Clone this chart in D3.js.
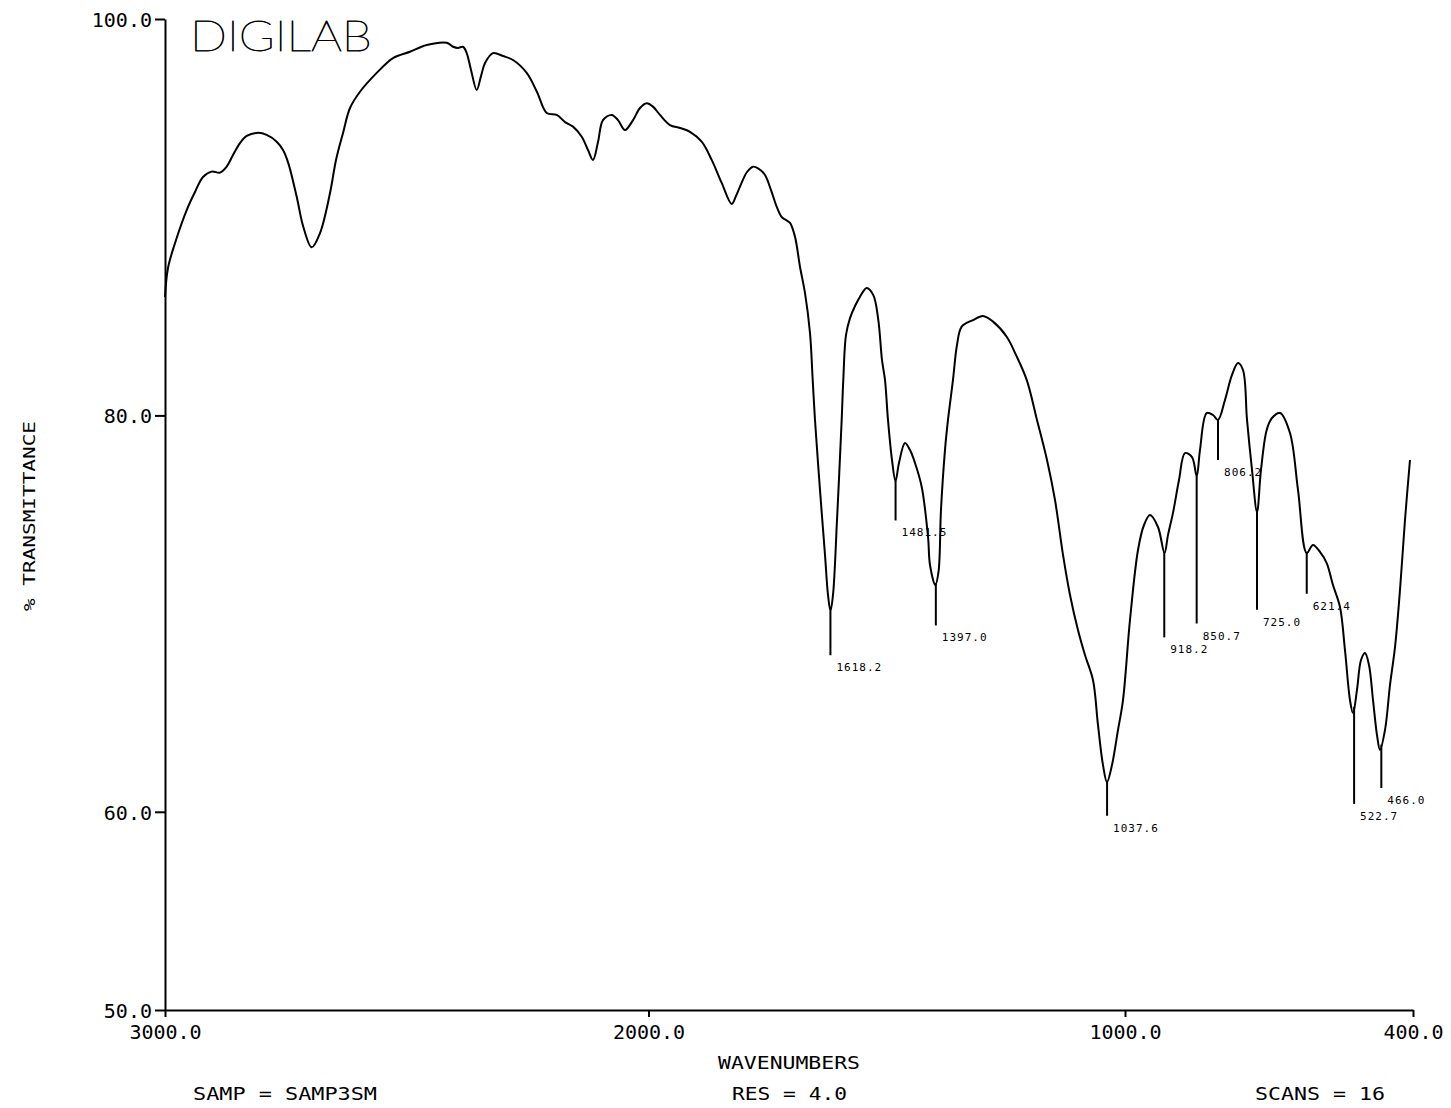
<!DOCTYPE html>
<html>
<head>
<meta charset="utf-8">
<script src="https://cdn.jsdelivr.net/npm/d3@7"></script>
<style>
  html, body { margin: 0; padding: 0; background: #fff; }
  svg { display: block; }
  text { fill: #000; }
</style>
</head>
<body>
<svg id="chart" width="1451" height="1108"></svg>
<script>
// IR spectrum: wavenumber (cm-1) and % transmittance
const wavenumbers = [
  3000.0, 2993.8, 2977.2, 2955.1, 2938.0, 2921.4, 2903.4, 2886.2, 2872.4, 2859.4,
  2844.9, 2831.0, 2807.0, 2789.7, 2769.0, 2755.9, 2745.0, 2727.6, 2714.0, 2696.6,
  2679.4, 2658.7, 2646.3, 2631.8, 2617.4, 2596.7, 2562.1, 2528.4, 2493.3, 2458.7,
  2417.4, 2404.3, 2394.0, 2383.6, 2376.0, 2367.1, 2355.3, 2346.4, 2338.1, 2321.6,
  2300.9, 2280.2, 2251.9, 2230.6, 2210.5, 2189.8, 2172.7, 2156.1, 2138.1, 2125.1,
  2114.8, 2104.4, 2094.1, 2076.1, 2063.1, 2048.6, 2032.0, 2017.6, 2003.7, 1990.6,
  1975.9, 1954.9, 1933.9, 1912.9, 1888.4, 1867.4, 1846.4, 1825.4, 1816.4, 1808.0,
  1793.3, 1780.7, 1768.1, 1755.5, 1742.9, 1731.0, 1720.5, 1711.4, 1703.0, 1692.6,
  1682.1, 1671.6, 1661.1, 1655.4, 1650.6, 1640.1, 1629.6, 1623.3, 1618.1, 1612.8,
  1604.4, 1594.6, 1591.2, 1585.5, 1577.1, 1566.6, 1556.1, 1542.1, 1528.2, 1517.7,
  1510.0, 1503.7, 1497.4, 1489.0, 1481.6, 1474.3, 1461.7, 1451.2, 1440.7, 1426.7,
  1413.4, 1409.2, 1398.1, 1391.4, 1386.2, 1377.8, 1371.5, 1361.0, 1352.6, 1342.7,
  1319.0, 1298.0, 1277.0, 1248.3, 1228.8, 1206.3, 1184.7, 1163.7, 1146.9, 1130.1,
  1115.4, 1098.7, 1084.0, 1067.2, 1056.7, 1046.2, 1037.8, 1027.3, 1014.7, 1004.2,
  989.6, 972.9, 960.4, 947.9, 931.3, 917.7, 910.4, 900.0, 887.5, 875.0,
  860.4, 850.6, 843.8, 829.8, 816.7, 806.3, 791.7, 777.1, 764.6, 754.2,
  745.8, 735.4, 725.0, 716.7, 704.8, 693.8, 677.1, 656.3, 639.6, 621.5,
  608.3, 593.8, 579.8, 566.7, 552.1, 541.7, 531.3, 525.0, 516.7, 508.3,
  500.0, 491.7, 483.3, 475.0, 468.8, 458.3, 447.9, 437.5, 427.1, 416.7,
  406.3
];
const transmittance = [
  85.97, 87.44, 88.85, 90.36, 91.27, 92.03, 92.30, 92.25, 92.55, 93.14,
  93.74, 94.10, 94.26, 94.15, 93.81, 93.39, 92.73, 91.03, 89.52, 88.48,
  89.20, 91.22, 92.89, 94.25, 95.51, 96.33, 97.28, 98.03, 98.35, 98.69,
  98.80, 98.60, 98.54, 98.60, 98.28, 97.43, 96.42, 97.12, 97.78, 98.28,
  98.13, 97.93, 97.28, 96.32, 95.26, 95.16, 94.80, 94.57, 94.06, 93.39,
  92.89, 93.79, 94.90, 95.16, 94.90, 94.40, 94.90, 95.51, 95.75, 95.58,
  95.16, 94.65, 94.50, 94.31, 93.81, 92.89, 91.73, 90.67, 91.07, 91.54,
  92.28, 92.55, 92.43, 92.13, 91.37, 90.53, 90.01, 89.86, 89.71, 89.02,
  87.50, 86.18, 84.16, 81.79, 79.77, 76.24, 72.96, 70.94, 70.13, 70.94,
  74.72, 79.77, 81.79, 84.06, 84.91, 85.52, 85.99, 86.43, 86.07, 84.81,
  82.80, 81.79, 79.77, 77.75, 76.69, 77.60, 78.61, 78.25, 77.60, 76.40,
  73.88, 72.45, 71.44, 72.10, 75.23, 78.25, 79.77, 81.79, 83.55, 84.48,
  84.81, 85.02, 84.73, 83.97, 83.05, 81.79, 79.77, 77.75, 75.73, 72.96,
  70.94, 69.17, 67.91, 66.65, 64.38, 62.36, 61.50, 62.36, 64.13, 65.64,
  69.68, 73.21, 74.47, 74.97, 74.37, 73.06, 73.97, 75.08, 76.74, 78.10,
  77.90, 76.94, 78.25, 80.12, 80.02, 79.77, 80.78, 82.04, 82.64, 82.29,
  79.77, 77.25, 75.13, 77.25, 79.26, 79.87, 80.12, 79.11, 76.24, 73.06,
  73.46, 73.11, 72.55, 71.44, 70.33, 68.16, 65.64, 64.98, 66.15, 67.66,
  68.01, 67.41, 65.64, 63.87, 63.12, 64.13, 66.40, 68.31, 71.19, 74.72,
  77.75
];

// Picked peaks: position, printed label, and where each marker stroke ends (% T)
const peakPositions = [1618.2, 1481.5, 1397.0, 1037.6, 918.2, 850.7, 806.2, 725.0, 621.4, 522.7, 466.0];
const peakLabels = ["1618.2", "1481.5", "1397.0", "1037.6", "918.2", "850.7", "806.2", "725.0", "621.4", "522.7", "466.0"];
const peakMarkerEnds = [67.9, 74.7, 69.4, 59.8, 68.8, 69.5, 77.75, 70.2, 71.0, 60.4, 61.2];

const xTicks = [3000, 2000, 1000, 400];
const yTicks = [100, 80, 60, 50];

const MONO = '"DejaVu Sans Mono", "Liberation Mono", monospace';

const svg = d3.select("#chart");

// Plotter x axis is not perfectly linear; use a piecewise scale through the tick marks
const x = d3.scaleLinear()
  .domain([3000, 2000, 1000, 400])
  .range([165, 648.5, 1125, 1413]);
const y = d3.scaleLinear()
  .domain([50, 100])
  .range([1010, 19]);

const spectrum = wavenumbers.map((w, i) => ({ w, t: transmittance[i] }));

// Axes
const xAxis = d3.axisBottom(x)
  .tickValues(xTicks)
  .tickFormat(d3.format(".1f"))
  .tickSizeInner(7)
  .tickSizeOuter(0)
  .tickPadding(8);
const gx = svg.append("g")
  .attr("transform", `translate(0,${y(50)})`)
  .call(xAxis);

const yAxis = d3.axisLeft(y)
  .tickValues(yTicks)
  .tickFormat(d3.format(".1f"))
  .tickSizeInner(10)
  .tickSizeOuter(0)
  .tickPadding(3);
const gy = svg.append("g")
  .attr("transform", `translate(${x(3000)},0)`)
  .call(yAxis);

[gx, gy].forEach(g => {
  g.select(".domain").attr("stroke", "#000").attr("stroke-width", 2);
  g.selectAll(".tick line").attr("stroke", "#000").attr("stroke-width", 2);
  g.selectAll(".tick text")
    .style("font-family", MONO)
    .style("font-size", "20px")
    .attr("fill", "#000");
});
gy.selectAll(".tick text").attr("dy", "0.36em");

// Spectrum trace
const line = d3.line()
  .x(d => x(d.w))
  .y(d => y(d.t))
  .curve(d3.curveCatmullRom.alpha(0.5));

svg.append("path")
  .datum(spectrum)
  .attr("fill", "none")
  .attr("stroke", "#000")
  .attr("stroke-width", 2)
  .attr("stroke-linejoin", "round")
  .attr("d", line);

// Transmittance on the trace at a given wavenumber (data run from high to low)
function traceAt(w) {
  for (let i = 1; i < spectrum.length; i++) {
    const a = spectrum[i - 1], b = spectrum[i];
    if (w <= a.w && w >= b.w) {
      const f = (a.w - w) / (a.w - b.w);
      return a.t + f * (b.t - a.t);
    }
  }
  return spectrum[spectrum.length - 1].t;
}

// Peak markers and labels
const peaks = peakPositions.map((w, i) => ({ w, label: peakLabels[i], end: peakMarkerEnds[i] }));
const gp = svg.append("g");
gp.selectAll("line")
  .data(peaks)
  .join("line")
  .attr("x1", d => x(d.w))
  .attr("x2", d => x(d.w))
  .attr("y1", d => y(traceAt(d.w)))
  .attr("y2", d => y(d.end))
  .attr("stroke", "#000")
  .attr("stroke-width", 2);
gp.selectAll("text")
  .data(peaks)
  .join("text")
  .attr("x", d => x(d.w) + 6)
  .attr("y", d => y(d.end) + 16)
  .style("font-family", MONO)
  .style("font-size", "11px")
  .attr("letter-spacing", 1)
  .text(d => d.label);

// Titles and run information
svg.append("text")
  .attr("x", 190)
  .attr("y", 51)
  .style("font-family", "Lato, Roboto, sans-serif")
  .style("font-weight", 100)
  .style("font-size", "42px")
  .attr("stroke", "#000")
  .attr("stroke-width", 0.8)
  .attr("textLength", 182)
  .attr("lengthAdjust", "spacingAndGlyphs")
  .text("DIGILAB");

svg.append("text")
  .attr("transform", "translate(35,516) rotate(-90)")
  .attr("text-anchor", "middle")
  .style("font-family", MONO)
  .style("font-size", "16px")
  .attr("textLength", 190)
  .attr("lengthAdjust", "spacingAndGlyphs")
  .text("% TRANSMITTANCE");

svg.append("text")
  .attr("x", 718)
  .attr("y", 1069)
  .style("font-family", MONO)
  .style("font-size", "18px")
  .attr("textLength", 142)
  .attr("lengthAdjust", "spacingAndGlyphs")
  .text("WAVENUMBERS");

const footer = [
  { x: 193, w: 184, s: "SAMP = SAMP3SM" },
  { x: 732, w: 115, s: "RES = 4.0" },
  { x: 1255, w: 130, s: "SCANS = 16" }
];
svg.selectAll(".footer")
  .data(footer)
  .join("text")
  .attr("class", "footer")
  .attr("x", d => d.x)
  .attr("y", 1100)
  .style("font-family", MONO)
  .style("font-size", "18px")
  .attr("textLength", d => d.w)
  .attr("lengthAdjust", "spacingAndGlyphs")
  .text(d => d.s);
</script>
</body>
</html>
